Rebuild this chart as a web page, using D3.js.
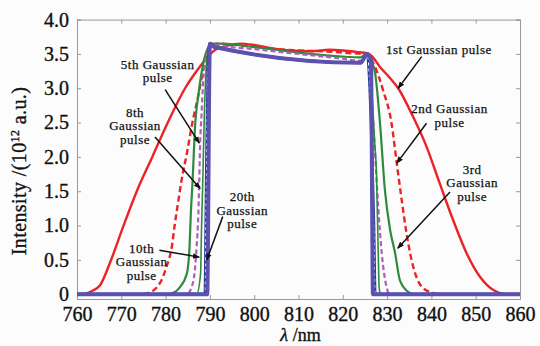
<!DOCTYPE html>
<html>
<head>
	<script src="https://cdn.jsdelivr.net/npm/d3@7/dist/d3.min.js"></script>
	<style>
		html, body {
			padding: 0;
			margin: 0;
			background: #fcfcfc;
		}
		text { font-family: "Liberation Serif", "DejaVu Serif", serif; fill: #111; }
	</style>
</head>
<body>
	<script>
		var width = 540, height = 346;
		var margin = { top: 19.6, right: 20, bottom: 47, left: 77 };

		// ~ ~ ~ DATA: [wavelength nm, intensity 1e12 a.u.] ~ ~ ~
		const pulse1 = [[760,0],[762,0.01],[763.5,0.05],[765.2,0.13],[767.4,0.45],[770.4,0.98],[773.5,1.5],[777,2.0],[780.5,2.5],[784.4,3.0],[787,3.25],[789,3.42],[791,3.55],[794,3.62],[797,3.65],[800,3.63],[804,3.58],[808,3.55],[813,3.54],[817,3.56],[820,3.55],[823,3.53],[825.5,3.51],[826.5,3.47],[828.4,3.31],[830.5,3.16],[832.5,3.0],[835.9,2.58],[838.9,2.15],[841.9,1.61],[844.9,1.08],[848,0.59],[851,0.25],[854,0.06],[857,0],[860,0]];
		const pulse2 = [[760,0],[774,0],[775.7,0.01],[778.7,0.16],[780.2,0.40],[781.4,0.69],[782.1,1.03],[782.9,1.37],[783.6,1.66],[784.8,2.05],[785.9,2.45],[787.4,2.9],[788.5,3.27],[789.5,3.5],[790.5,3.63],[792,3.65],[796,3.63],[800,3.6],[810,3.55],[818,3.53],[822,3.51],[825.5,3.5],[827,3.35],[829.1,2.97],[831,2.49],[832.2,1.9],[833.3,1.37],[834.4,0.88],[835.9,0.40],[837.8,0.11],[840.3,0.02],[842,0],[860,0]];
		const pulse3 = [[760,0],[780,0],[782,0.03],[783.2,0.1],[784.8,0.3],[785.4,0.69],[785.7,1.18],[786.1,1.66],[786.6,2.39],[787.5,2.95],[788.5,3.36],[789.5,3.58],[790.5,3.65],[792.3,3.65],[800,3.6],[810,3.52],[820,3.46],[824,3.45],[825.5,3.51],[826.5,3.4],[827.3,3.22],[828.4,2.49],[829.5,1.52],[830.7,0.93],[831.8,0.6],[832.9,0.2],[834.8,0.03],[836,0],[860,0]];
		const pulse5 = [[760,0],[784.8,0],[786.3,0.2],[787,0.69],[787.4,1.18],[787.6,1.66],[787.8,2.2],[788.1,2.6],[788.5,3.12],[789.2,3.45],[790.3,3.65],[791.5,3.63],[800,3.57],[810,3.5],[820,3.43],[824,3.4],[825.5,3.5],[826.3,3.1],[826.9,2.49],[828,1.27],[828.8,0.59],[829.9,0.1],[830.5,0],[860,0]];
		const pulse8 = [[760,0],[787,0],[787.9,0.3],[788.1,0.93],[788.4,1.66],[788.7,2.5],[789.2,3.3],[790,3.65],[791,3.6],[824,3.38],[825.5,3.5],[826.5,3.0],[827.2,2.2],[827.6,1.76],[828,0.6],[828.2,0.1],[828.5,0],[860,0]];
		const pulse10 = [[760,0],[788.9,0],[789.1,1.0],[789.3,2.2],[789.6,3.3],[790,3.65],[791,3.6],[824,3.37],[825.5,3.5],[826.4,2.5],[827,1.0],[827.3,0],[860,0]];
		const pulse20 = [[760,0],[789.4,0],[789.6,1.0],[789.8,2.8],[790,3.65],[791,3.6],[824,3.37],[825.5,3.5],[826.4,3.4],[826.6,1.5],[826.8,0],[860,0]];

		const xTicks = [760, 770, 780, 790, 800, 810, 820, 830, 840, 850, 860];
		const yTicks = [0, 0.5, 1.0, 1.5, 2.0, 2.5, 3.0, 3.5, 4.0];
		const yTickLabels = ["0", "0.5", "1.0", "1.5", "2.0", "2.5", "3.0", "3.5", "4.0"];

		// annotation labels: text lines, text centre, arrow start, arrow tip (data units)
		const notes = [
			{ lines: ["1st Gaussian pulse"], at: [841.7, 3.57], from: [837.8, 3.46], to: [832.5, 3.0] },
			{ lines: ["2nd Gaussian", "pulse"], at: [844.1, 2.70], from: [838.9, 2.49], to: [832.2, 1.91] },
			{ lines: ["3rd", "Gaussian", "pulse"], at: [849.2, 1.82], from: [844.2, 1.49], to: [832.4, 0.67] },
			{ lines: ["5th Gaussian", "pulse"], at: [778.2, 3.35], from: [779.9, 2.98], to: [787.6, 2.20] },
			{ lines: ["8th", "Gaussian", "pulse"], at: [773.1, 2.65], from: [777.6, 2.29], to: [787.8, 1.54] },
			{ lines: ["10th", "Gaussian", "pulse"], at: [774.6, 0.67], from: [778.6, 0.64], to: [787.6, 0.54] },
			{ lines: ["20th", "Gaussian", "pulse"], at: [797.3, 1.42], from: [792.9, 1.13], to: [789.3, 0.50] }
		];

		var svg = d3.select('body').append('svg')
			.attr('width', width)
			.attr('height', height);

		var x = d3.scaleLinear().domain([760, 860]).range([margin.left, width - margin.right]);
		var y = d3.scaleLinear().domain([-0.07, 4]).range([height - margin.bottom, margin.top]);

		svg.append("clipPath").attr("id", "plotclip").append("rect")
			.attr("x", x(760)).attr("y", y(4))
			.attr("width", x(860) - x(760)).attr("height", y(-0.07) - y(4));

		// frame with inward ticks on four sides
		var axisColor = "#9a9a9a";
		var gx = svg.append("g").attr("transform", "translate(0," + y(-0.07) + ")")
			.call(d3.axisBottom(x).tickValues(xTicks).tickSize(-4).tickPadding(8).tickFormat(d3.format("d")));
		var gxTop = svg.append("g").attr("transform", "translate(0," + y(4) + ")")
			.call(d3.axisTop(x).tickValues(xTicks).tickSize(-4).tickFormat(""));
		var gy = svg.append("g").attr("transform", "translate(" + x(760) + ",0)")
			.call(d3.axisLeft(y).tickValues(yTicks).tickSize(-4).tickPadding(8).tickFormat((d, i) => yTickLabels[i]));
		var gyRight = svg.append("g").attr("transform", "translate(" + x(860) + ",0)")
			.call(d3.axisRight(y).tickValues(yTicks).tickSize(-4).tickFormat(""));

		[gx, gxTop, gy, gyRight].forEach(function(g) {
			g.attr("font-family", null);
			g.selectAll("path, line").attr("stroke", axisColor).attr("stroke-width", 1);
			g.selectAll("text").style("font-size", "20px").attr("fill", "#111")
				.attr("stroke", "#111").attr("stroke-width", 0.35);
		});
		gx.selectAll("text").attr("dy", "0.71em");

		// axis titles
		svg.append("text")
			.attr("transform", "translate(26,171) rotate(-90)")
			.attr("text-anchor", "middle")
			.attr("stroke", "#111").attr("stroke-width", 0.35)
			.style("font-size", "20px")
			.style("letter-spacing", "0.4px")
			.html('Intensity /(10<tspan dy="-7" font-size="12">12</tspan><tspan dy="7"> a.u.)</tspan>');

		svg.append("text")
			.attr("x", (x(760) + x(860)) / 2 + 2)
			.attr("y", 341)
			.attr("text-anchor", "middle")
			.attr("stroke", "#111").attr("stroke-width", 0.35)
			.style("font-size", "18px")
			.html('<tspan font-style="italic">λ</tspan> /nm');

		// curves
		var line = d3.line()
			.x(d => x(d[0]))
			.y(d => y(d[1]))
			.curve(d3.curveMonotoneX);

		var plot = svg.append("g").attr("clip-path", "url(#plotclip)");

		var styles = [
			{ data: pulse1, color: "#ec2227", w: 2.4, dash: null },
			{ data: pulse2, color: "#ec2227", w: 2.4, dash: "6,3.5" },
			{ data: pulse3, color: "#2e8b3e", w: 2.2, dash: null },
			{ data: pulse5, color: "#b05cc0", w: 2.2, dash: "5,3" },
			{ data: pulse8, color: "#2e8b3e", w: 1.6, dash: null },
			{ data: pulse10, color: "#2a3a98", w: 3, dash: null },
			{ data: pulse20, color: "#5a52ae", w: 4, dash: null }
		];

		styles.forEach(function(s, i) {
			plot.append("path")
				.datum(s.data)
				.attr("d", line)
				.attr("fill", "none")
				.attr("stroke", s.color)
				.attr("stroke-width", s.w)
				.attr("stroke-linejoin", "round")
				.attr("stroke-dasharray", s.dash);
			if (i === 5) {
				// white dashes running inside the 10th pulse line
				plot.append("path")
					.datum(s.data)
					.attr("d", line)
					.attr("fill", "none")
					.attr("stroke", "#ffffff")
					.attr("stroke-width", 1)
					.attr("stroke-dasharray", "3,3");
			}
		});

		// arrows and labels
		svg.append("defs").append("marker")
			.attr("id", "head")
			.attr("viewBox", "0 0 10 10")
			.attr("refX", 9).attr("refY", 5)
			.attr("markerWidth", 7).attr("markerHeight", 7)
			.attr("markerUnits", "userSpaceOnUse")
			.attr("orient", "auto")
			.append("path").attr("d", "M0,1 L10,5 L0,9 Z").attr("fill", "#111");

		notes.forEach(function(n) {
			svg.append("line")
				.attr("x1", x(n.from[0])).attr("y1", y(n.from[1]))
				.attr("x2", x(n.to[0])).attr("y2", y(n.to[1]))
				.attr("stroke", "#111").attr("stroke-width", 1.5)
				.attr("marker-end", "url(#head)");
			var t = svg.append("text")
				.attr("text-anchor", "middle")
				.attr("stroke", "#111").attr("stroke-width", 0.25)
				.style("font-size", "13px")
				.style("letter-spacing", "0.5px");
			n.lines.forEach(function(l, i) {
				t.append("tspan")
					.attr("x", x(n.at[0]))
					.attr("y", y(n.at[1]) + i * 13.5)
					.attr("dy", "0.35em")
					.text(l);
			});
		});
	</script>
</body>
</html>
